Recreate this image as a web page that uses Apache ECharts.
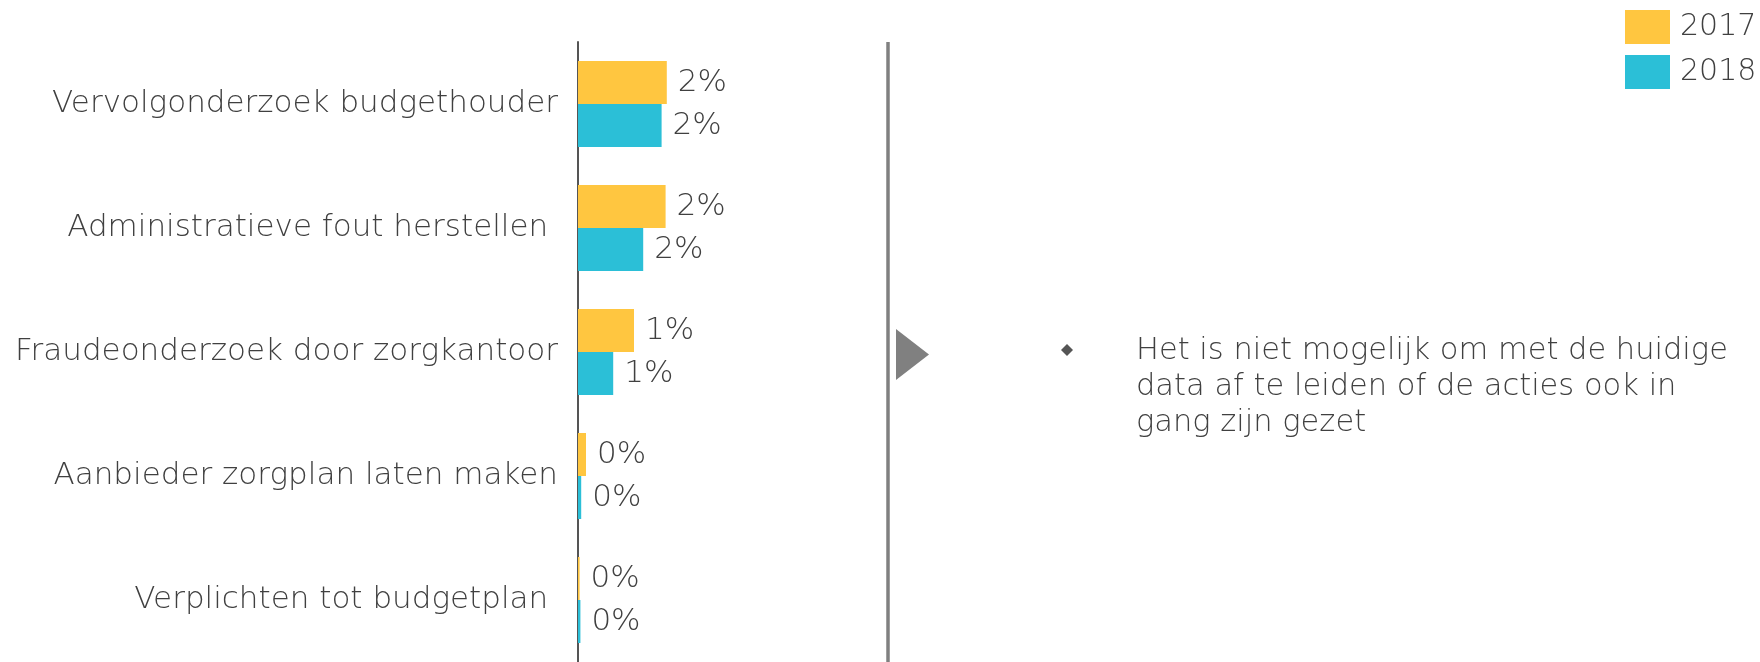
<!DOCTYPE html>
<html><head><meta charset="utf-8">
<script src="https://cdn.jsdelivr.net/npm/echarts@6/dist/echarts.min.js"></script>
<style>html,body{margin:0;padding:0;background:#fff}#c{width:1760px;height:662px}</style>
</head><body><div id="c"></div>
<script>
const categories = ['Vervolgonderzoek budgethouder', 'Administratieve fout herstellen ', 'Fraudeonderzoek door zorgkantoor', 'Aanbieder zorgplan laten maken', 'Verplichten tot budgetplan '];
const seriesNames = ['2017', '2018'];
const values2017 = [2.22, 2.19, 1.4, 0.2, 0.04];
const values2018 = [2.09, 1.63, 0.88, 0.08, 0.06];
const noteText = 'Het is niet mogelijk om met de huidige\ndata af te leiden of de acties ook in\ngang zijn gezet';

const FONT = '"DejaVu Sans", sans-serif';
const TXT = '#404040';
const chart = echarts.init(document.getElementById('c'), null, {renderer: 'canvas'});
const lbl = {
  show: true, position: 'right', distance: 11,
  fontFamily: FONT, fontWeight: 200, fontSize: 31, color: TXT,
  formatter: p => Math.round(p.value) + '%'
};
chart.setOption({
  animation: false,
  textStyle: {fontFamily: FONT},
  legend: {
    orient: 'vertical', left: 1620, top: 5, itemWidth: 45, itemHeight: 34, itemGap: 11,
    icon: 'rect', data: seriesNames,
    textStyle: {fontFamily: FONT, fontWeight: 200, fontSize: 30, color: TXT, padding: [0, 0, 0, 5]}
  },
  grid: {left: 578, top: 42, width: 200, height: 623, containLabel: false},
  xAxis: {type: 'value', min: 0, max: 5, show: false},
  yAxis: {
    type: 'category', data: categories, inverse: true,
    axisLine: {show: true, lineStyle: {color: '#555555', width: 2}},
    axisTick: {show: false},
    axisLabel: {margin: 20, fontFamily: FONT, fontWeight: 200, fontSize: 31, color: TXT}
  },
  series: [
    {name: seriesNames[0], type: 'bar', data: values2017, barWidth: 43, barGap: '0%',
     itemStyle: {color: '#FFC640'}, label: lbl},
    {name: seriesNames[1], type: 'bar', data: values2018, barWidth: 43, barGap: '0%',
     itemStyle: {color: '#2BBFD7'}, label: lbl}
  ],
  graphic: [
    {type: 'line', shape: {x1: 888, y1: 42, x2: 888, y2: 662}, style: {stroke: '#808080', lineWidth: 3.5}},
    {type: 'polygon', shape: {points: [[896, 329], [929, 354.5], [896, 380]]}, style: {fill: '#808080'}},
    {type: 'polygon', shape: {points: [[1067, 344], [1073, 350], [1067, 356], [1061, 350]]}, style: {fill: '#555555'}},
    {type: 'text', x: 1136, y: 333, style: {text: noteText, fontFamily: FONT, fontWeight: 200, fontSize: 30.5, lineHeight: 36, fill: TXT, verticalAlign: 'top'}}
  ]
});
</script></body></html>
